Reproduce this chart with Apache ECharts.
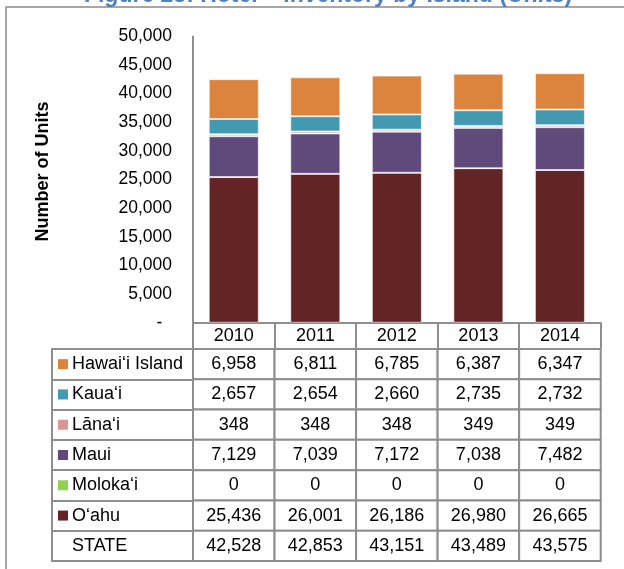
<!DOCTYPE html>
<html><head><meta charset="utf-8">
<script src="https://cdn.jsdelivr.net/npm/echarts@6/dist/echarts.min.js"></script>
<style>html,body{margin:0;padding:0;background:#fff}#c{width:624px;height:569px}</style>
</head><body><div id="c"></div>
<script>
// ---- data ----
const years = ['2010', '2011', '2012', '2013', '2014'];
const rowNames = ['Hawai\u2018i Island', 'Kaua\u2018i', 'L\u0101na\u2018i', 'Maui', 'Moloka\u2018i', 'O\u2018ahu', 'STATE'];
const hawaii = [6958, 6811, 6785, 6387, 6347];
const kauai = [2657, 2654, 2660, 2735, 2732];
const lanai = [348, 348, 348, 349, 349];
const maui = [7129, 7039, 7172, 7038, 7482];
const molokai = [0, 0, 0, 0, 0];
const oahu = [25436, 26001, 26186, 26980, 26665];
const stateTotal = [42528, 42853, 43151, 43489, 43575];
const yMax = 50000;
const yStep = 5000;
const titleText = 'Figure 28: Hotel \u2013 Inventory by Island (Units)';
const yName = 'Number of Units';

// ---- styles ----
const colHawaii = '#dc843e', colKauai = '#4399b0', colLanai = '#d99694',
      colMaui = '#604a7b', colMolokai = '#92d050', colOahu = '#632425';
const rowColors = [colHawaii, colKauai, colLanai, colMaui, colMolokai, colOahu, null];
const tableRows = [hawaii, kauai, lanai, maui, molokai, oahu, stateTotal];
const gridColor = '#8e8e8e';
const FONT = '"Liberation Sans", Arial, sans-serif';
const fmt = v => v.toLocaleString('en-US');

const cellData = [];
tableRows.forEach((arr, r) => arr.forEach((v, c) => cellData.push([c, r, v])));

const rich = { t: { fontSize: 18, fontFamily: FONT, color: '#000', padding: [0, 0, 0, 4], lineHeight: 20 } };
rowColors.forEach((c, i) => {
  rich['s' + i] = { width: 10, height: 10, backgroundColor: c || 'transparent', verticalAlign: 'middle', fontSize: 1 };
});

function barSeries(name, data, color) {
  return {
    name, type: 'bar', stack: 'total', data, barWidth: 50,
    xAxisIndex: 0, yAxisIndex: 0,
    itemStyle: { color, borderColor: 'rgba(255,255,255,0.55)', borderWidth: 1 },
    emphasis: { disabled: true }
  };
}

const chart = echarts.init(document.getElementById('c'), null, { renderer: 'canvas' });
chart.setOption({
  animation: false,
  textStyle: { fontFamily: FONT },
  graphic: [
    { type: 'rect', z: -1, shape: { x: 6, y: 7, width: 700, height: 700 },
      style: { fill: 'none', stroke: '#8a8a8a', lineWidth: 1.5 } },
    { type: 'text', x: 328, y: 7, style: { text: titleText, align: 'center', verticalAlign: 'bottom',
      font: 'bold 23px ' + FONT, fill: '#4f81bd' } },
    { type: 'text', x: 43, y: 171.5, rotation: Math.PI / 2, style: { text: yName, align: 'center',
      verticalAlign: 'middle', font: 'bold 18px ' + FONT, fill: '#000' } }
  ],
  grid: [
    { left: 193, right: 23.3, top: 36.4, bottom: 569 - 322.7 },
    { left: 193, right: 23.3, top: 349, bottom: 8 }
  ],
  xAxis: [
    { type: 'category', gridIndex: 0, data: years,
      axisLine: { show: true, lineStyle: { color: gridColor, width: 2 } },
      axisTick: { show: true, length: 26, interval: 0, lineStyle: { color: gridColor, width: 2 } },
      axisLabel: { fontSize: 18, color: '#000', margin: 13, verticalAlign: 'middle', interval: 0 } },
    { type: 'category', gridIndex: 1, data: years, show: false }
  ],
  yAxis: [
    { type: 'value', gridIndex: 0, min: 0, max: yMax, interval: yStep,
      axisLine: { show: true, lineStyle: { color: gridColor, width: 2 } },
      axisTick: { show: false }, splitLine: { show: false },
      axisLabel: { fontSize: 17.5, color: '#000', margin: 21,
        formatter: v => v === 0 ? '-  ' : fmt(v) } },
    { type: 'category', gridIndex: 1, data: rowNames, inverse: true,
      axisLine: { show: true, lineStyle: { color: gridColor, width: 2 } },
      axisTick: { show: true, length: 141, interval: 0, lineStyle: { color: gridColor, width: 2 } },
      axisLabel: { align: 'left', margin: 135, interval: 0, rich,
        formatter: (v, i) => '{s' + i + '| }{t|' + v + '}' } },
    { type: 'category', gridIndex: 1, data: rowNames, inverse: true, offset: 141, position: 'left',
      axisLine: { show: true, lineStyle: { color: gridColor, width: 2 } },
      axisTick: { show: false }, axisLabel: { show: false } }
  ],
  series: [
    barSeries(rowNames[5], oahu, colOahu),
    barSeries(rowNames[4], molokai, colMolokai),
    barSeries(rowNames[3], maui, colMaui),
    barSeries(rowNames[2], lanai, colLanai),
    barSeries(rowNames[1], kauai, colKauai),
    barSeries(rowNames[0], hawaii, colHawaii),
    {
      type: 'custom', xAxisIndex: 1, yAxisIndex: 1, data: cellData,
      encode: { x: 0, y: 1 },
      renderItem: (params, api) => {
        const p = api.coord([api.value(0), api.value(1)]);
        const s = api.size([1, 1]);
        return { type: 'group', children: [
          { type: 'rect', shape: { x: p[0] - s[0] / 2, y: p[1] - s[1] / 2, width: s[0], height: s[1] },
            style: { fill: '#fff', stroke: gridColor, lineWidth: 2 } },
          { type: 'text', style: { text: fmt(api.value(2)), x: p[0], y: p[1], align: 'center',
            verticalAlign: 'middle', font: '18px ' + FONT, fill: '#000' } }
        ] };
      }
    }
  ]
});
</script></body></html>
